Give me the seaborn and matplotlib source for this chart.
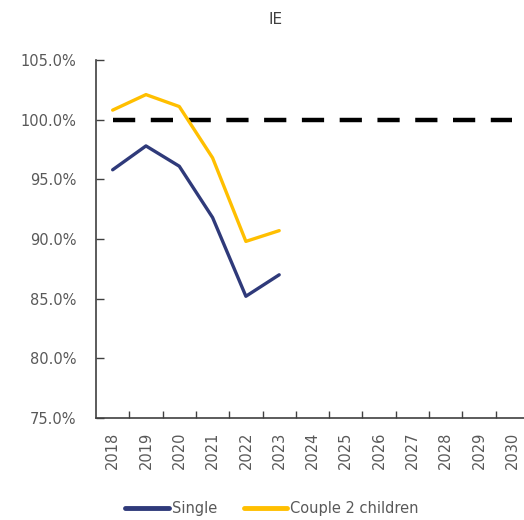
import matplotlib
matplotlib.use("Agg")
import matplotlib.pyplot as plt
import seaborn as sns
import pandas as pd
import numpy as np

# data
years = list(range(2018, 2031))
single = [95.8, 97.8, 96.1, 91.8, 85.2, 87.0]
couple = [100.8, 102.1, 101.1, 96.8, 89.8, 90.7]
baseline = [100.0] * len(years)
y_ticks = [75, 80, 85, 90, 95, 100, 105]

df = pd.DataFrame({
    "year": years[:len(single)] * 2,
    "value": single + couple,
    "series": ["Single"] * len(single) + ["Couple 2 children"] * len(couple),
})
base_df = pd.DataFrame({"year": years, "value": baseline})

sns.set_style("white")
plt.rcParams["font.family"] = ["DejaVu Sans"]

fig = plt.figure(figsize=(5.24, 5.20), dpi=100)
ax = fig.add_axes([96 / 524, (520 - 418) / 520, 433 / 524, 358 / 520])

sns.lineplot(data=base_df, x="year", y="value", color="black", linewidth=3.2,
             linestyle=(0, (5, 3.5)), ax=ax, legend=False)
sns.lineplot(data=df, x="year", y="value", hue="series",
             palette={"Single": "#2F3A7A", "Couple 2 children": "#FFBF00"},
             linewidth=2.4, ax=ax)

ax.set_xlim(2017.5, 2030.5)
ax.set_ylim(75, 105)
ax.set_yticks(y_ticks)
ax.set_yticklabels([f"{v:.1f}%" for v in y_ticks])
ax.set_xticks(years)
ax.set_xticklabels([str(y) for y in years], rotation=90)
ax.set_xticks([y + 0.5 for y in years[:-1]], minor=True)
ax.tick_params(axis="x", which="major", bottom=True, length=0, pad=10,
               labelsize=10.5, labelcolor="#595959")
ax.tick_params(axis="x", which="minor", bottom=True, direction="in", length=5,
               width=1, color="#404040")
ax.tick_params(axis="y", which="major", left=True, direction="in", length=6, width=1,
               color="#404040", pad=14, labelsize=10.5, labelcolor="#595959")
ax.set_xlabel("")
ax.set_ylabel("")

for side in ["top", "right"]:
    ax.spines[side].set_visible(False)
for side in ["left", "bottom"]:
    ax.spines[side].set_color("#404040")
    ax.spines[side].set_linewidth(1.2)

fig.text(276 / 524, 1 - 20 / 520, "IE", ha="center", va="center", fontsize=11, color="#404040")

handles, labels = ax.get_legend_handles_labels()
for h in handles:
    h.set_linewidth(3.5)
ax.legend(handles, labels, loc="center", bbox_to_anchor=(272 / 524, 11 / 520),
          bbox_transform=fig.transFigure, ncol=2, frameon=False, fontsize=10.5,
          handlelength=3.0, handletextpad=0.2, columnspacing=1.8,
          labelcolor="#595959")

fig.savefig("out.png", dpi=100)
